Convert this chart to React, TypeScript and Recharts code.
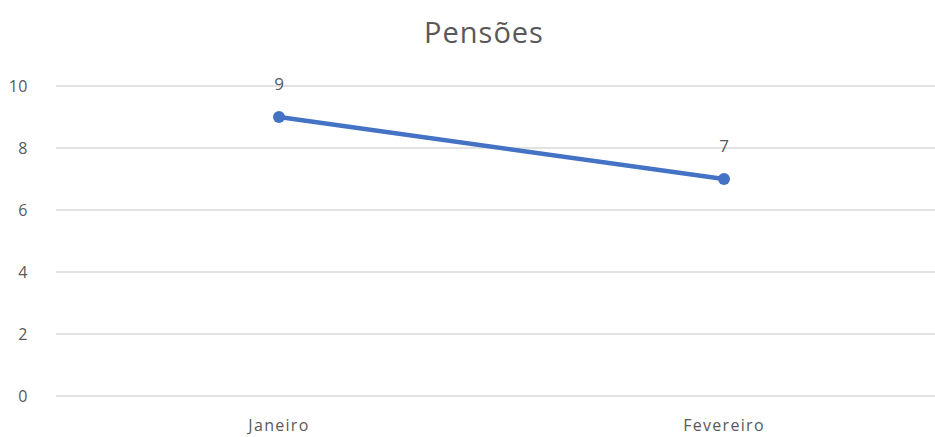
import React from 'react';
import { LineChart, Line, XAxis, YAxis, CartesianGrid, LabelList } from 'recharts';

const categories = ['Janeiro', 'Fevereiro'];
const pensoes = [9, 7];
const yTicks = [0, 2, 4, 6, 8, 10];

const data = categories.map((c, i) => ({ name: c, value: pensoes[i] }));

const FONT = '"Open Sans", "Noto Sans", sans-serif';
const TEXT = '#595959';

export default function App() {
  return (
    <div style={{ position: 'fixed', left: 0, top: 0, width: 935, height: 437, overflow: 'hidden', background: '#fff' }}>
      <div
        style={{
          position: 'absolute',
          left: 0,
          width: 968,
          top: 12,
          textAlign: 'center',
          fontFamily: FONT,
          fontSize: 29,
          color: TEXT,
          lineHeight: '40px',
          letterSpacing: 1,
        }}
      >
        Pensões
      </div>
      <div style={{ position: 'absolute', left: 0, top: 0 }}>
        <LineChart width={950} height={437} data={data} margin={{ top: 86, right: 4, bottom: 0, left: 0 }}>
          <CartesianGrid vertical={false} stroke="#D9D9D9" strokeWidth={1.3} />
          <XAxis
            dataKey="name"
            axisLine={false}
            tickLine={false}
            height={41}
            tickMargin={18}
            padding={{ left: 223, right: 222 }}
            tick={{ fill: TEXT, fontSize: 16, fontFamily: FONT, letterSpacing: 1.3 }}
          />
          <YAxis
            domain={[0, 10]}
            ticks={yTicks}
            axisLine={false}
            tickLine={false}
            width={56}
            tickMargin={22}
            tick={{ fill: TEXT, fontSize: 16, fontFamily: FONT, letterSpacing: 0.5 }}
          />
          <Line
            type="linear"
            dataKey="value"
            stroke="#4472C4"
            strokeWidth={4.5}
            dot={{ r: 6, fill: '#4472C4', stroke: '#4472C4', strokeWidth: 0 }}
            isAnimationActive={false}
          >
            <LabelList dataKey="value" position="top" offset={27} style={{ fill: TEXT, fontSize: 17, fontFamily: FONT }} />
          </Line>
        </LineChart>
      </div>
    </div>
  );
}
